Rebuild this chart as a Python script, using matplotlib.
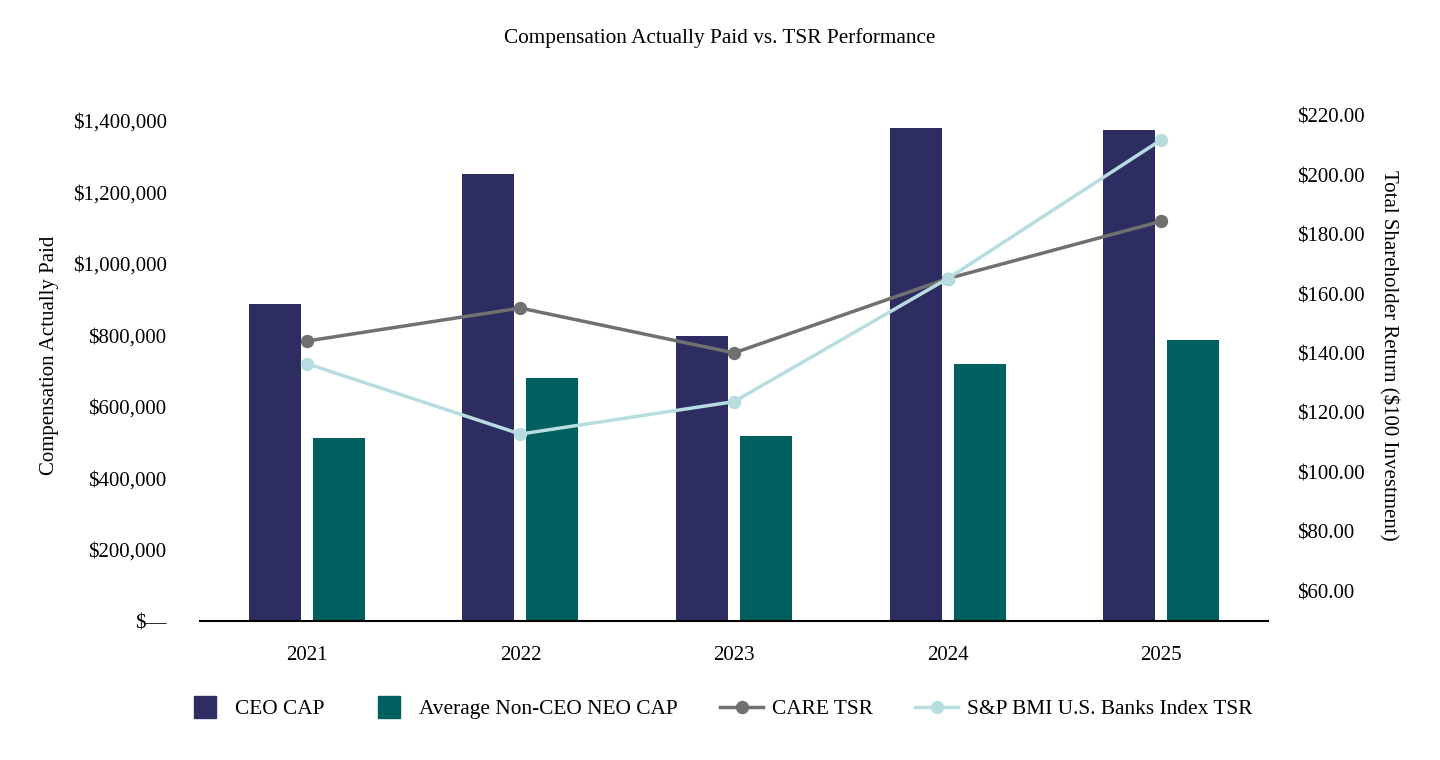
import matplotlib
matplotlib.use("Agg")
import matplotlib.pyplot as plt
from matplotlib.ticker import FuncFormatter, FixedLocator
from matplotlib.lines import Line2D
import numpy as np

plt.rcParams['font.family'] = ['Liberation Serif', 'DejaVu Serif']

years = ["2021", "2022", "2023", "2024", "2025"]
ceo_cap = [888000, 1252000, 798000, 1381000, 1376000]
neo_cap = [513000, 681000, 518000, 720000, 787000]
care_tsr = [144.2, 155.3, 140.2, 165.2, 184.5]
sp_tsr = [136.6, 112.9, 123.8, 165.2, 211.9]

c_ceo = "#2E2D62"
c_neo = "#005F5F"
c_care = "#707070"
c_sp = "#B7DDE1"

FS = 15

fig = plt.figure(figsize=(14.4, 7.6), dpi=100)
ax = fig.add_axes([200/1440, 139/760, 1068/1440, 532/760])
x = np.arange(len(years))
w = 0.243
off = 0.15
ax.bar(x - off, ceo_cap, width=w, color=c_ceo, zorder=2)
ax.bar(x + off, neo_cap, width=w, color=c_neo, zorder=2)
ax.set_xlim(-0.5, 4.5)
ax.set_ylim(0, 1489600)
ax.yaxis.set_major_locator(FixedLocator(np.arange(0, 1400001, 200000)))
ax.yaxis.set_major_formatter(FuncFormatter(lambda v, p: "$\u2014" if v == 0 else "${:,.0f}".format(v)))
ax.set_xticks(x)
ax.set_xticklabels(years)
for s in ["top", "right", "left"]:
    ax.spines[s].set_visible(False)
ax.spines["bottom"].set_linewidth(1.5)
ax.spines["bottom"].set_color("black")
ax.tick_params(axis="both", length=0, labelsize=FS)
ax.tick_params(axis="x", pad=18)
ax.tick_params(axis="y", pad=24)
ax.set_ylabel("Compensation Actually Paid", fontsize=FS, labelpad=10)

ax2 = ax.twinx()
ax2.plot(x, care_tsr, color=c_care, lw=2.5, marker="o", ms=8.6, zorder=3)
ax2.plot(x, sp_tsr, color=c_sp, lw=2.5, marker="o", ms=8.6, zorder=3)
ax2.set_ylim(50, 229.0)
ax2.yaxis.set_major_locator(FixedLocator(np.arange(60, 221, 20)))
ax2.yaxis.set_major_formatter(FuncFormatter(lambda v, p: "${:,.2f}".format(v)))
for s in ["top", "right", "left", "bottom"]:
    ax2.spines[s].set_visible(False)
ax2.tick_params(axis="y", length=0, labelsize=FS, pad=21)
ax2.set_ylabel("Total Shareholder Return ($100 Investment)", fontsize=FS, rotation=270, labelpad=24)

fig.suptitle("Compensation Actually Paid vs. TSR Performance", y=1 - 38/760, va="center", fontsize=15.3)

handles = [
    Line2D([], [], color=c_ceo, ls="none", marker="s", ms=16, label="CEO CAP"),
    Line2D([], [], color=c_neo, ls="none", marker="s", ms=16, label="Average Non-CEO NEO CAP"),
    Line2D([], [], color=c_care, lw=2.5, marker="o", ms=8.6, label="CARE TSR"),
    Line2D([], [], color=c_sp, lw=2.5, marker="o", ms=8.6, label="S&P BMI U.S. Banks Index TSR"),
]
fig.legend(handles=handles, loc="center", bbox_to_anchor=(718/1440, 1 - 709/760), ncol=4,
           frameon=False, fontsize=15.4, handlelength=2.0, columnspacing=2.0, handletextpad=0.4)

fig.savefig("out.png", dpi=100)
